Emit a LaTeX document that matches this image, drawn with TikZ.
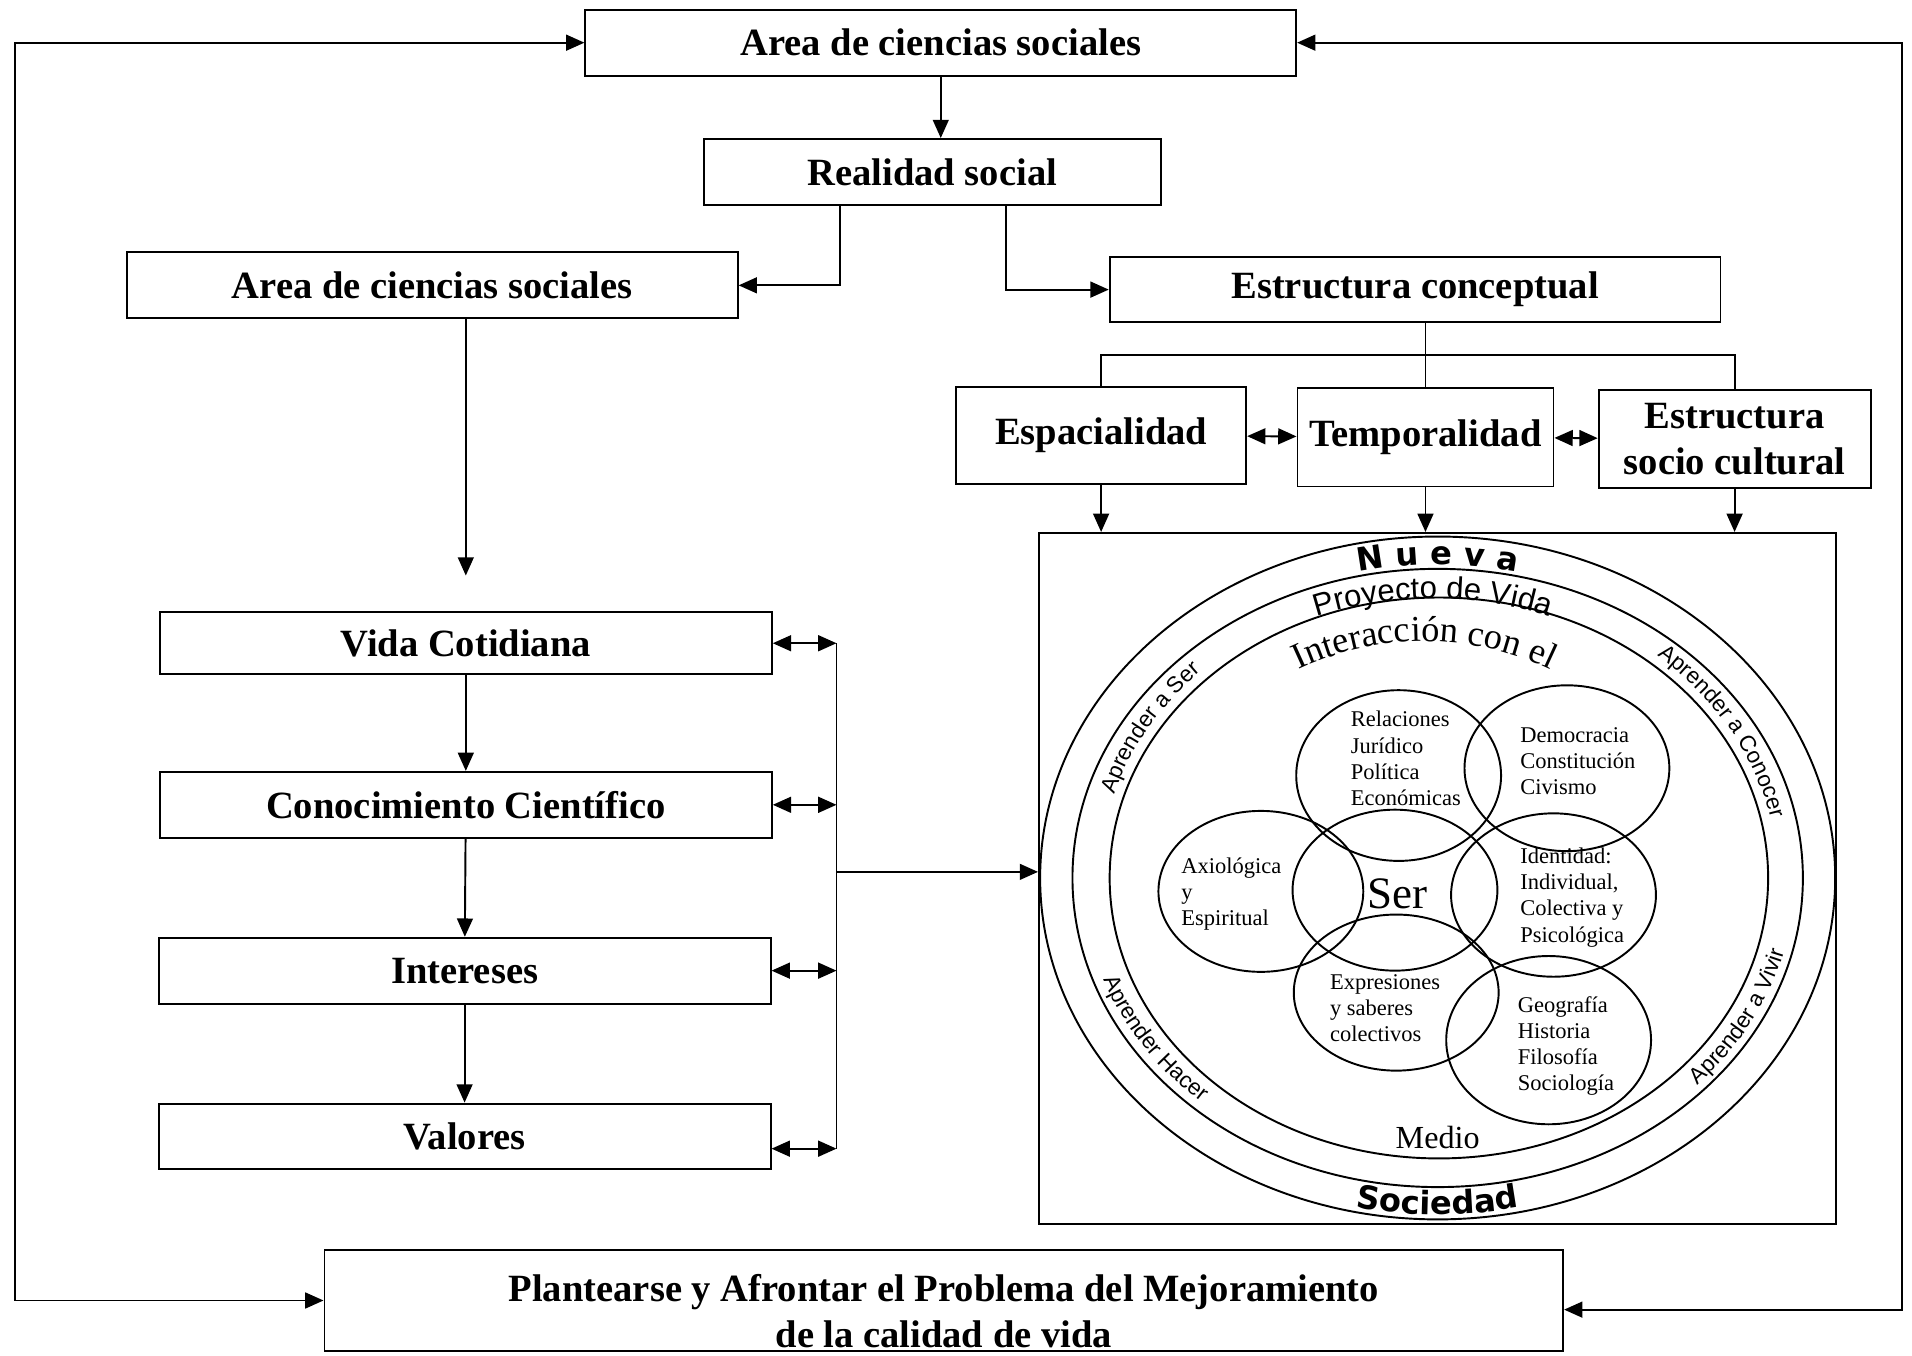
\documentclass[tikz,border=0pt]{standalone}
\usepackage{fontspec}
\setmainfont{Liberation Serif}
\newfontfamily\arialfont{Liberation Sans}
\newfontfamily\blackfont{DejaVu Sans}
\usetikzlibrary{arrows.meta,decorations.text}

\begin{document}
\begin{tikzpicture}[y={-0.02cm}, x={0.02cm}, line width=0.9pt,
    >={Triangle[length=0.3cm,width=0.26cm]},
    caja/.style={draw, inner sep=0pt, align=center, font=\bfseries\fontsize{18}{21.6}\selectfont},
    circulo/.style={anchor=west, inner sep=0pt, align=left, font=\fontsize{10.5}{12.2}\selectfont},
    anillo/.style={decorate, decoration={text along path, text align=center, text={#1}}}]
    \useasboundingbox (0,0) rectangle (1568,1112);
    % cajas de arriba
    \node[caja, minimum width=11.66cm, minimum height=1.08cm] (area1) at (771.5,35) {Area de ciencias sociales};
    \node[caja, minimum width=7.5cm, minimum height=1.08cm] (real) at (764.5,141) {Realidad social};
    \node[caja, minimum width=10.02cm, minimum height=1.08cm] (area2) at (354.5,234) {Area de ciencias sociales};
    \node[caja, minimum width=10.02cm, minimum height=1.06cm] (estr) at (1160.5,237.5) {Estructura conceptual};
    \node[caja, minimum width=4.76cm, minimum height=1.6cm] (espa) at (903,357) {Espacialidad};
    \node[caja, minimum width=4.2cm, minimum height=1.62cm] (temp) at (1169,358.5) {Temporalidad};
    \node[caja, minimum width=4.46cm, minimum height=1.6cm] (soci) at (1422.5,360) {Estructura\\socio cultural};
    % columna izquierda
    \node[caja, minimum width=10.04cm, minimum height=1.02cm] (vida) at (382,527.5) {Vida Cotidiana};
    \node[caja, minimum width=10.04cm, minimum height=1.08cm] (cono) at (382,660) {Conocimiento Científico};
    \node[caja, minimum width=10.04cm, minimum height=1.08cm] (inte) at (381,796) {Intereses};
    \node[caja, minimum width=10.04cm, minimum height=1.08cm] (valo) at (381,932) {Valores};
    \node[caja, minimum width=20.32cm, minimum height=1.66cm] (plan) at (774,1066.5) {};
    \node[font=\bfseries\fontsize{18}{21.6}\selectfont, align=center] (plantxt) at (774,1075) {Plantearse y Afrontar el Problema del Mejoramiento\\de la calidad de vida};
    % marco del circulo
    \node[draw, minimum width=13.08cm, minimum height=11.34cm] (marco) at (1179,720.5) {};
    \draw (1179,720) ellipse[x radius=326, y radius=280];
    \draw (1179,720) ellipse[x radius=299.5, y radius=253.5];
    \draw (1180,720) ellipse[x radius=270, y radius=230];
    \foreach \cx/\cy/\ry in {1147/636/70, 1285/630/68, 1034/731/66, 1144/730/66, 1274/734/67, 1145/814/64, 1270/853/69}
        \draw (\cx,\cy) ellipse[x radius=84, y radius=\ry];
    \node[circulo] (rel) at (1107,622) {Relaciones\\Jurídico\\Política\\Económicas};
    \node[circulo] (dem) at (1246,624.5) {Democracia\\Constitución\\Civismo};
    \node[circulo] (axi) at (968,733.5) {Axiológica\\y\\Espiritual};
    \node[circulo] (ide) at (1246,736) {Identidad:\\Individual,\\Colectiva y\\Psicológica};
    \node[circulo] (expr) at (1090,827) {Expresiones\\y saberes\\colectivos};
    \node[circulo] (geo) at (1244,858) {Geografía\\Historia\\Filosofía\\Sociología};
    \node[font=\fontsize{21}{21}\selectfont] (ser) at (1146,733) {Ser};
    \node[font=\fontsize{15}{15}\selectfont] (medio) at (1179,933) {Medio};
    % textos en los anillos
    \path[anillo={|\blackfont\bfseries\fontsize{15}{15}\selectfont|N u e v a}] (1179,720) ++(-150:302 and 257) arc[start angle=-150, end angle=-30, x radius=302, y radius=257];
    \path[anillo={|\blackfont\bfseries\fontsize{15}{15}\selectfont|Sociedad}] (1179,720) ++(-240:321 and 276) arc[start angle=-240, end angle=-300, x radius=321, y radius=276];
    \path[anillo={|\arialfont\fontsize{14.5}{14.5}\selectfont|Proyecto de Vida}] (1175,720) ++(-150:270 and 229) arc[start angle=-150, end angle=-30, x radius=270, y radius=229];
    \path[anillo={|\fontsize{17}{17}\selectfont|Interacción con el}] (1168,720) ++(-150:218 and 194) arc[start angle=-150, end angle=-30, x radius=218, y radius=194];
    \path[anillo={|\arialfont\fontsize{10.5}{10.5}\selectfont|Aprender a Ser}] (1180,720) ++(-185:278 and 238) arc[start angle=-185, end angle=-115, x radius=278, y radius=238];
    \path[anillo={|\arialfont\fontsize{10.5}{10.5}\selectfont|Aprender a Conocer}] (1180,720) ++(-65:278 and 238) arc[start angle=-65, end angle=5, x radius=278, y radius=238];
    \path[anillo={|\arialfont\fontsize{10.5}{10.5}\selectfont|Aprender Hacer}] (1180,720) ++(-175:292 and 247) arc[start angle=-175, end angle=-250, x radius=292, y radius=247];
    \path[anillo={|\arialfont\fontsize{10.5}{10.5}\selectfont|Aprender a Vivir}] (1180,720) ++(-295:292 and 247) arc[start angle=-295, end angle=-370, x radius=292, y radius=247];
    % flechas
    \draw[->] (area1.south) -- (area1.south |- real.north);
    \draw[->] ([xshift=-1.51cm]real.south) |- (area2.east);
    \draw[->] ([xshift=1.21cm]real.south) |- (estr.west);
    \coordinate (rama) at (1169,291);
    \draw (estr.south -| rama) -- (temp.north);
    \draw (espa.north) |- (rama) -| (soci.north);
    \draw[<->] (espa) -- (temp);
    \draw[<->] (temp) -- (soci);
    \foreach \n in {espa,temp,soci}
        \draw[->] (\n.south) -- (\n.south |- marco.north);
    \coordinate (pausa) at (382,472);
    \draw[->] (area2.south -| pausa) -- (pausa);
    \draw[->] (vida) -- (cono);
    \draw[->] (cono) -- (inte);
    \draw[->] (inte) -- (valo);
    \coordinate (bus) at (686,715);
    \coordinate (vfin) at ([yshift=-0.2cm]valo.east);
    \foreach \n in {vida.east,cono.east,inte.east,vfin}
        \draw[<->] (\n) -- (\n -| bus);
    \draw (vida.east -| bus) -- (vfin -| bus);
    \draw[->] (bus) -- (bus -| marco.west);
    \draw[<->] (area1.west) -- (12,35) |- (plan.west);
    \coordinate (pder) at ([yshift=-0.15cm]plan.east);
    \draw[<->] (area1.east) -- (1560,35) |- (pder);
\end{tikzpicture}
\end{document}
